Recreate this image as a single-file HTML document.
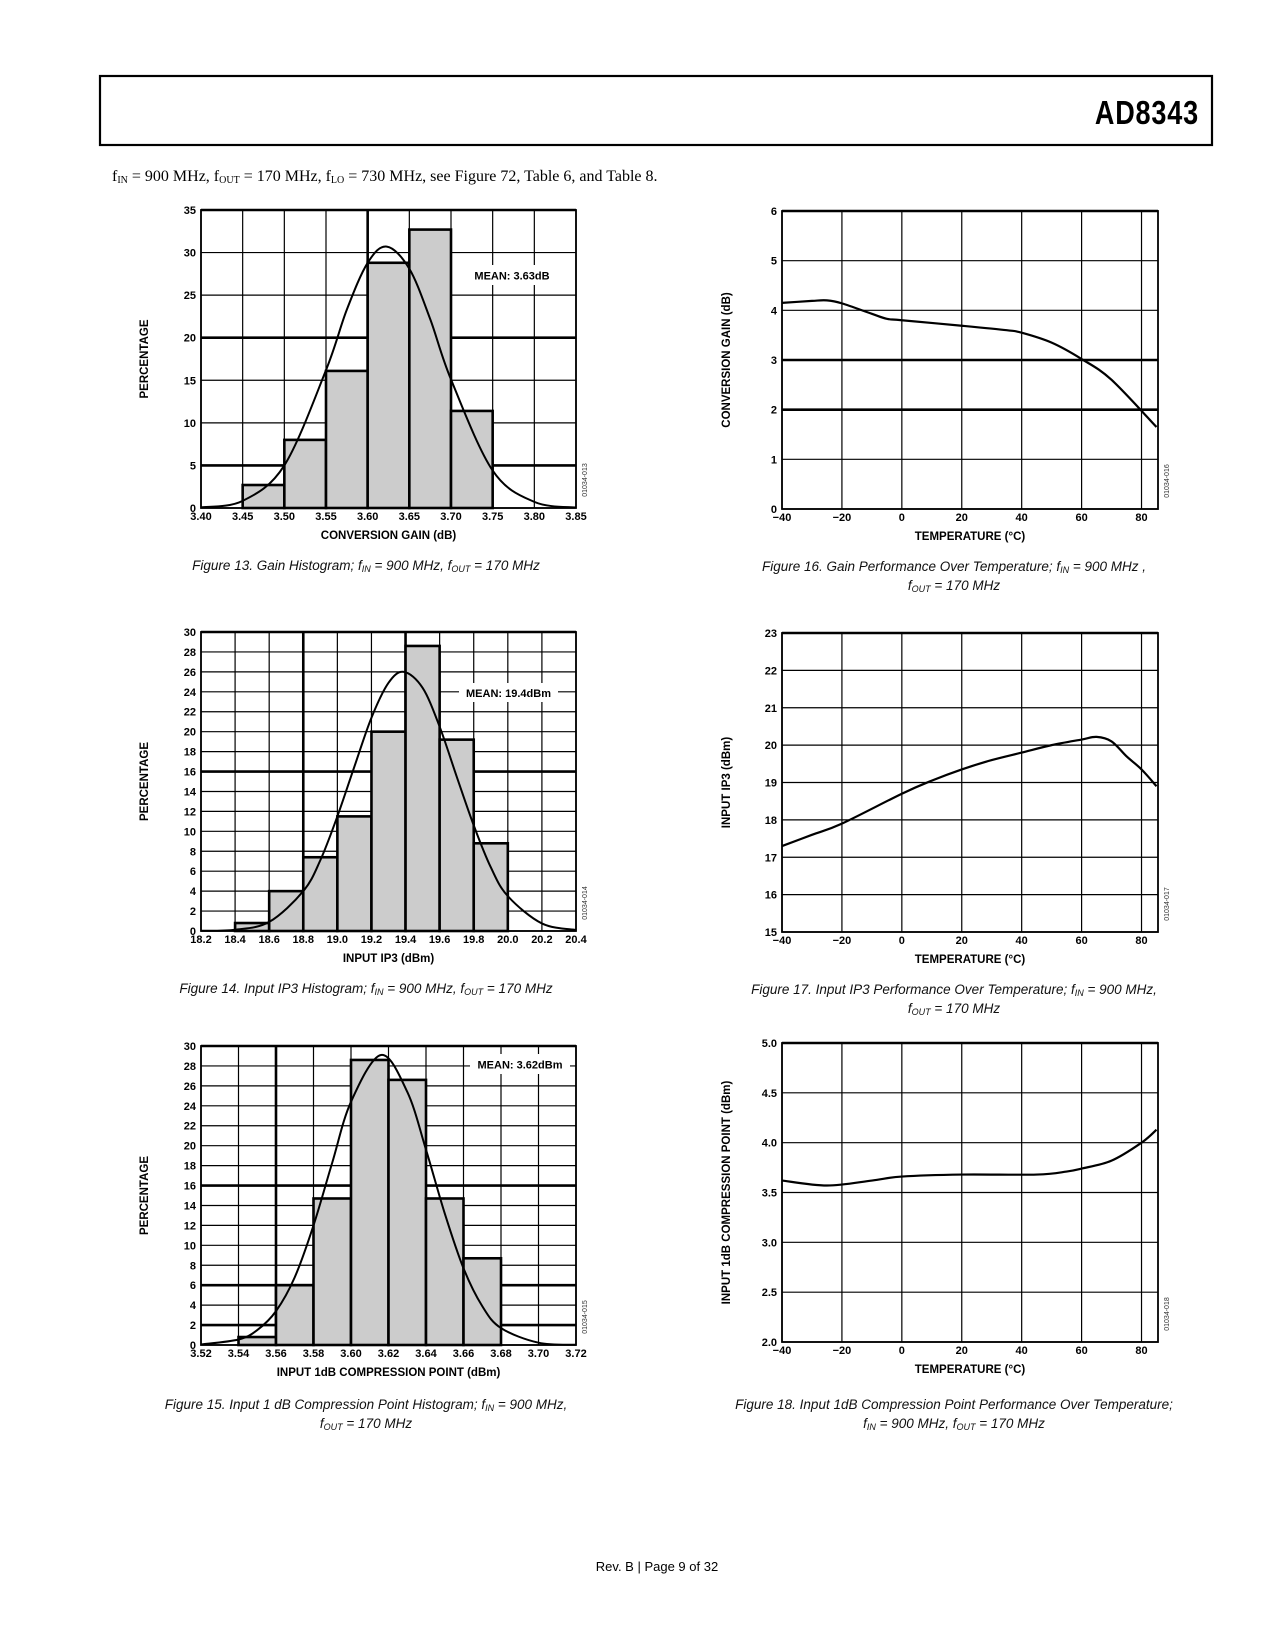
<!DOCTYPE html>
<html><head><meta charset="utf-8">
<style>
html,body{margin:0;padding:0;background:#fff;}
svg{display:block;}
.tk{font-family:"Liberation Sans",Arial,sans-serif;font-weight:bold;font-size:11px;fill:#000;}
.ttl{font-family:"Liberation Sans",Arial,sans-serif;font-weight:bold;font-size:11.5px;fill:#000;}
.cap{font-family:"Liberation Sans",Arial,sans-serif;font-style:italic;font-size:13.5px;fill:#111;}
.code{font-family:"Liberation Sans",Arial,sans-serif;font-size:7px;fill:#333;}
</style></head>
<body>
<svg id="page" width="1275" height="1650" viewBox="0 0 1275 1650" xmlns="http://www.w3.org/2000/svg">
<rect x="100" y="76" width="1112" height="69" fill="none" stroke="#000" stroke-width="2.2"/>
<text x="1199" y="124" text-anchor="end" style="font-family:'Liberation Sans Narrow','Liberation Sans',sans-serif;font-weight:bold;font-size:33px;letter-spacing:1px;" transform="translate(1199 0) scale(0.82 1) translate(-1199 0)">AD8343</text>
<text x="112" y="181" style="font-family:'Liberation Serif',serif;font-size:16px;">f<tspan font-size="10" dy="2">IN</tspan><tspan dy="-2"> = 900 MHz, f</tspan><tspan font-size="10" dy="2">OUT</tspan><tspan dy="-2"> = 170 MHz, f</tspan><tspan font-size="10" dy="2">LO</tspan><tspan dy="-2"> = 730 MHz, see Figure 72, Table 6, and Table 8.</tspan></text>
<text x="657" y="1571" text-anchor="middle" style="font-family:'Liberation Sans',sans-serif;font-size:13px;">Rev. B | Page 9 of 32</text>
<g id="charts"></g>
</svg>
<script>
// ---------- Figure 13: gain histogram ----------
const h1BinStarts = [3.45, 3.50, 3.55, 3.60, 3.65, 3.70];
const h1Values = [2.7, 8.0, 16.1, 28.8, 32.7, 11.4];
const h1CurveX = [3.40, 3.45, 3.50, 3.55, 3.575, 3.60, 3.623, 3.65, 3.675, 3.70, 3.75, 3.80, 3.85];
const h1CurveY = [0.08, 0.84, 5.0, 16.2, 23.3, 28.8, 30.7, 28.1, 22.2, 15.1, 4.4, 0.72, 0.06];
const h1XTicks = ["3.40","3.45","3.50","3.55","3.60","3.65","3.70","3.75","3.80","3.85"];
const h1YTicks = ["0","5","10","15","20","25","30","35"];
// ---------- Figure 14: IP3 histogram ----------
const h2BinStarts = [18.4, 18.6, 18.8, 19.0, 19.2, 19.4, 19.6, 19.8];
const h2Values = [0.8, 4.0, 7.4, 11.5, 20.0, 28.6, 19.2, 8.8];
const h2CurveX = [18.2, 18.4, 18.6, 18.8, 18.9, 19.0, 19.1, 19.2, 19.3, 19.39, 19.5, 19.6, 19.7, 19.8, 19.9, 20.0, 20.2, 20.4];
const h2CurveY = [0.02, 0.13, 0.91, 4.0, 7.1, 11.5, 16.5, 21.4, 24.9, 26.0, 24.4, 20.5, 15.5, 10.6, 6.4, 3.5, 0.76, 0.1];
const h2XTicks = ["18.2","18.4","18.6","18.8","19.0","19.2","19.4","19.6","19.8","20.0","20.2","20.4"];
const h2YTicks = ["0","2","4","6","8","10","12","14","16","18","20","22","24","26","28","30"];
// ---------- Figure 15: P1dB histogram ----------
const h3BinStarts = [3.54, 3.56, 3.58, 3.60, 3.62, 3.64, 3.66];
const h3Values = [0.8, 6.0, 14.7, 28.6, 26.6, 14.7, 8.7];
const h3CurveX = [3.52, 3.54, 3.55, 3.56, 3.57, 3.58, 3.59, 3.60, 3.616, 3.63, 3.64, 3.65, 3.66, 3.67, 3.68, 3.70, 3.72];
const h3CurveY = [0.05, 0.55, 1.5, 3.4, 6.8, 12.0, 18.3, 24.4, 29.1, 25.4, 19.6, 13.2, 7.7, 3.9, 1.7, 0.23, 0.02];
const h3XTicks = ["3.52","3.54","3.56","3.58","3.60","3.62","3.64","3.66","3.68","3.70","3.72"];
const h3YTicks = ["0","2","4","6","8","10","12","14","16","18","20","22","24","26","28","30"];
// ---------- Figure 16-18: temperature sweeps ----------
const tempXTicks = ["−40","−20","0","20","40","60","80"];
const gainTemp = [-40, -30, -25, -20, -10, -5, 0, 20, 35, 40, 50, 60, 70, 85];
const gainVals = [4.15, 4.19, 4.2, 4.14, 3.93, 3.83, 3.8, 3.69, 3.6, 3.55, 3.35, 3.02, 2.6, 1.65];
const gainYTicks = ["0","1","2","3","4","5","6"];
const ip3Temp = [-40, -30, -20, 0, 10, 20, 30, 40, 50, 60, 65, 70, 75, 80, 85];
const ip3Vals = [17.3, 17.6, 17.9, 18.7, 19.05, 19.35, 19.6, 19.8, 20.0, 20.15, 20.22, 20.1, 19.7, 19.35, 18.9];
const ip3YTicks = ["15","16","17","18","19","20","21","22","23"];
const p1Temp = [-40, -25, -10, 0, 20, 45, 55, 60, 70, 80, 85];
const p1Vals = [3.62, 3.57, 3.62, 3.66, 3.68, 3.68, 3.71, 3.74, 3.82, 4.0, 4.13];
const p1YTicks = ["2.0","2.5","3.0","3.5","4.0","4.5","5.0"];

const NS = "http://www.w3.org/2000/svg";
const root = document.getElementById("charts");
function mk(tag, attrs, parent) {
  const e = document.createElementNS(NS, tag);
  for (const k in attrs) e.setAttribute(k, attrs[k]);
  (parent || root).appendChild(e);
  return e;
}
function num(s){ return parseFloat(String(s).replace("−","-")); }
function smoothPath(pts) {
  let d = "M" + pts[0][0].toFixed(2) + "," + pts[0][1].toFixed(2);
  for (let i = 0; i < pts.length - 1; i++) {
    const p0 = pts[Math.max(0, i - 1)], p1 = pts[i], p2 = pts[i + 1], p3 = pts[Math.min(pts.length - 1, i + 2)];
    const c1 = [p1[0] + (p2[0] - p0[0]) / 6, p1[1] + (p2[1] - p0[1]) / 6];
    const c2 = [p2[0] - (p3[0] - p1[0]) / 6, p2[1] - (p3[1] - p1[1]) / 6];
    d += " C" + c1[0].toFixed(2) + "," + c1[1].toFixed(2) + " " + c2[0].toFixed(2) + "," + c2[1].toFixed(2) + " " + p2[0].toFixed(2) + "," + p2[1].toFixed(2);
  }
  return d;
}

function frame(c) {
  const g = mk("g", {});
  
  
  const xmin = num(c.xTicks[0]), xmax = c.xMax !== undefined ? c.xMax : num(c.xTicks[c.xTicks.length - 1]);
  const ymin = num(c.yTicks[0]), ymax = num(c.yTicks[c.yTicks.length - 1]);
  const sx = v => c.L + (v - xmin) / (xmax - xmin) * (c.R - c.L);
  const sy = v => c.B - (v - ymin) / (ymax - ymin) * (c.B - c.T);
  c.sx = sx; c.sy = sy; c.g = g;
  // grid
  const gg = mk("g", {}, g);
  
  
  c.xTicks.forEach(t => {
    const v = num(t), x = sx(v);
    const ln = mk("line", {x1: x, x2: x, y1: c.T, y2: c.B, stroke: "#000", "stroke-width": (c.thickX || []).includes(t) ? 2.6 : 1.2}, gg);
    
    
    const tx = mk("text", {x: x, y: c.B + 12, "text-anchor": "middle", class: "tk"}, g);
    tx.textContent = t;
    
    
  });
  c.yTicks.forEach(t => {
    const v = num(t), y = sy(v);
    const ln = mk("line", {x1: c.L, x2: c.R, y1: y, y2: y, stroke: "#000", "stroke-width": (c.thickY || []).includes(t) ? 2.6 : 1.2}, gg);
    
    
    const tx = mk("text", {x: c.L - 5, y: y + 4, "text-anchor": "end", class: "tk"}, g);
    tx.textContent = t;
    
    
  });
  // x title
  const xt = mk("text", {x: (c.L + c.R) / 2, y: c.B + 31, "text-anchor": "middle", class: "ttl"}, g);
  xt.textContent = c.xTitle;
  
  
  const cy = (c.T + c.B) / 2;
  const yt = mk("text", {x: c.yTitleX, y: cy, "text-anchor": "middle", class: "ttl", transform: "rotate(-90 " + c.yTitleX + " " + cy + ")"}, g);
  yt.textContent = c.yTitle;
  
  
  const cx = c.R + 11, ccy = c.B - 28;
  const cd = mk("text", {x: cx, y: ccy, "text-anchor": "middle", class: "code", transform: "rotate(-90 " + cx + " " + ccy + ")"}, g);
  cd.textContent = c.code;
  
  
  // caption
  c.caption.forEach((line, i) => {
    const cp = mk("text", {x: c.capX, y: c.capY + i * 19, "text-anchor": "middle", class: "cap"}, g);
    cp.innerHTML = line;
    
    
  });
  return g;
}
function border(c) {
  const b = mk("rect", {x: c.L, y: c.T, width: c.R - c.L, height: c.B - c.T, fill: "none", stroke: "#000", "stroke-width": 1.8}, c.g);
  
  
  const top = mk("line", {x1: c.L, x2: c.R, y1: c.T, y2: c.T, stroke: "#000", "stroke-width": 2.6}, c.g);
  
  
}
function hist(c, starts, vals, cx, cy, meanText, meanBox) {
  frame(c);
  const bg = mk("g", {}, c.g);
  
  
  starts.forEach((s, i) => {
    const x0 = c.sx(s), x1 = c.sx(s + c.binW), y = c.sy(vals[i]);
    const r = mk("rect", {x: x0, y: y, width: x1 - x0, height: c.B - y, fill: "#cccccc", stroke: "#000", "stroke-width": 2.6}, bg);
    
    
  });
  border(c);
  const pts = cx.map((x, i) => [c.sx(x), c.sy(cy[i])]);
  const p = mk("path", {d: smoothPath(pts), fill: "none", stroke: "#000", "stroke-width": 2}, c.g);
  
  
  const mb = mk("rect", {x: meanBox[0], y: meanBox[1], width: meanBox[2], height: meanBox[3], fill: "#fff"}, c.g);
  
  
  const mt = mk("text", {x: meanBox[0] + meanBox[2] / 2, y: meanBox[1] + meanBox[3] / 2 + 4.5, "text-anchor": "middle", class: "tk", "font-size": "12"}, c.g);
  mt.textContent = meanText;
  
  
}
function lineChart(c, xs, ys) {
  frame(c);
  border(c);
  const pts = xs.map((x, i) => [c.sx(x), c.sy(ys[i])]);
  const p = mk("path", {d: smoothPath(pts), fill: "none", stroke: "#000", "stroke-width": 2.2}, c.g);
  
  
}

const capF = (a) => a;
hist({name: "gain-histogram", L: 201, R: 576, T: 210, B: 508, binW: 0.05, xTicks: h1XTicks, yTicks: h1YTicks,
  thickX: ["3.60"], thickY: ["5", "20"], xTitle: "CONVERSION GAIN (dB)", yTitle: "PERCENTAGE", yTitleX: 148, code: "01034-013",
  capX: 366, capY: 570, caption: ['Figure 13. Gain Histogram; f<tspan font-size="9" dy="2">IN</tspan><tspan dy="-2"> = 900 MHz, f</tspan><tspan font-size="9" dy="2">OUT</tspan><tspan dy="-2"> = 170 MHz</tspan>']},
  h1BinStarts, h1Values, h1CurveX, h1CurveY, "MEAN: 3.63dB", [466, 265, 92, 20]);
hist({name: "ip3-histogram", L: 201, R: 576, T: 632, B: 931, binW: 0.2, xTicks: h2XTicks, yTicks: h2YTicks,
  thickX: ["18.8", "19.4"], thickY: ["16"], xTitle: "INPUT IP3 (dBm)", yTitle: "PERCENTAGE", yTitleX: 148, code: "01034-014",
  capX: 366, capY: 993, caption: ['Figure 14. Input IP3 Histogram; f<tspan font-size="9" dy="2">IN</tspan><tspan dy="-2"> = 900 MHz, f</tspan><tspan font-size="9" dy="2">OUT</tspan><tspan dy="-2"> = 170 MHz</tspan>']},
  h2BinStarts, h2Values, h2CurveX, h2CurveY, "MEAN: 19.4dBm", [459, 683, 99, 19]);
hist({name: "p1db-histogram", L: 201, R: 576, T: 1046, B: 1345, binW: 0.02, xTicks: h3XTicks, yTicks: h3YTicks,
  thickX: ["3.56"], thickY: ["2", "6", "16"], xTitle: "INPUT 1dB COMPRESSION POINT (dBm)", yTitle: "PERCENTAGE", yTitleX: 148, code: "01034-015",
  capX: 366, capY: 1409, caption: ['Figure 15. Input 1 dB Compression Point Histogram; f<tspan font-size="9" dy="2">IN</tspan><tspan dy="-2"> = 900 MHz,</tspan>', 'f<tspan font-size="9" dy="2">OUT</tspan><tspan dy="-2"> = 170 MHz</tspan>']},
  h3BinStarts, h3Values, h3CurveX, h3CurveY, "MEAN: 3.62dBm", [470, 1054, 100, 20]);

lineChart({name: "gain-vs-temperature", L: 782, R: 1158, T: 211, B: 509, xMax: 85.5, xTicks: tempXTicks, yTicks: gainYTicks,
  thickY: ["2", "3"], xTitle: "TEMPERATURE (°C)", yTitle: "CONVERSION GAIN (dB)", yTitleX: 730, code: "01034-016",
  capX: 954, capY: 571, caption: ['Figure 16. Gain Performance Over Temperature; f<tspan font-size="9" dy="2">IN</tspan><tspan dy="-2"> = 900 MHz ,</tspan>', 'f<tspan font-size="9" dy="2">OUT</tspan><tspan dy="-2"> = 170 MHz</tspan>']},
  gainTemp, gainVals);
lineChart({name: "ip3-vs-temperature", L: 782, R: 1158, T: 633, B: 932, xMax: 85.5, xTicks: tempXTicks, yTicks: ip3YTicks,
  xTitle: "TEMPERATURE (°C)", yTitle: "INPUT IP3 (dBm)", yTitleX: 730, code: "01034-017",
  capX: 954, capY: 994, caption: ['Figure 17. Input IP3 Performance Over Temperature; f<tspan font-size="9" dy="2">IN</tspan><tspan dy="-2"> = 900 MHz,</tspan>', 'f<tspan font-size="9" dy="2">OUT</tspan><tspan dy="-2"> = 170 MHz</tspan>']},
  ip3Temp, ip3Vals);
lineChart({name: "p1db-vs-temperature", L: 782, R: 1158, T: 1043, B: 1342, xMax: 85.5, xTicks: tempXTicks, yTicks: p1YTicks,
  xTitle: "TEMPERATURE (°C)", yTitle: "INPUT 1dB COMPRESSION POINT (dBm)", yTitleX: 730, code: "01034-018",
  capX: 954, capY: 1409, caption: ['Figure 18. Input 1dB Compression Point Performance Over Temperature;', 'f<tspan font-size="9" dy="2">IN</tspan><tspan dy="-2"> = 900 MHz, f</tspan><tspan font-size="9" dy="2">OUT</tspan><tspan dy="-2"> = 170 MHz</tspan>']},
  p1Temp, p1Vals);
</script>
</body></html>
